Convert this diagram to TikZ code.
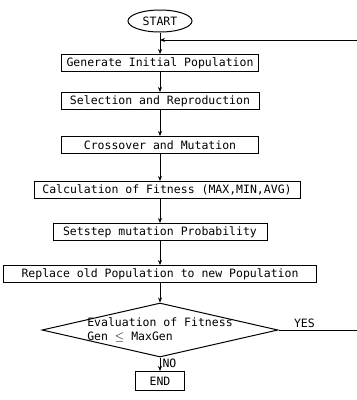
\documentclass[tikz,border=0pt]{standalone}
\usepackage{fontspec}
\setmainfont{DejaVu Sans Mono}
\usetikzlibrary{shapes.geometric,arrows.meta}
\tikzset{
  lbl/.style={font=\fontsize{11.5}{13.5}\selectfont},
  procbox/.style={lbl,draw,rectangle,minimum height=17pt,inner sep=0pt},
  flow/.style={-{Stealth[length=5pt,width=4pt]}},
}
\begin{document}
\begin{tikzpicture}[x=1pt,y=-1pt,line width=1pt]
		\clip (0,0) rectangle (357,400);
		\node[lbl,draw,ellipse,minimum width=64pt,minimum height=22pt,inner sep=0pt] (start) at (160,21) {START};
		\node[procbox,minimum width=197pt] (gen) at (160,63) {Generate Initial Population};
		\node[procbox,minimum width=198pt] (sel) at (160,101) {Selection and Reproduction};
		\node[procbox,minimum width=197pt] (cross) at (160,145) {Crossover and Mutation};
		\node[procbox,minimum width=266pt] (calc) at (167,190) {Calculation of Fitness (MAX,MIN,AVG)};
		\node[procbox,minimum width=214pt] (setstep) at (160,232) {Setstep mutation Probability};
		\node[procbox,minimum width=313pt] (repl) at (160,274) {Replace old Population to new Population};
		\node[draw,diamond,minimum width=236pt,minimum height=54pt,inner sep=0pt,
			label={[lbl,align=left]center:Evaluation of Fitness\\Gen $\leq$ MaxGen}] (eval) at (160,330) {};
		\node[procbox,minimum width=49pt,minimum height=19pt] (end) at (160,381) {END};
		\coordinate (loopin) at (160,40);
		\coordinate (far) at (365,40);
		% main flow
		\draw[flow] (start) -- (gen);
		\draw[flow] (gen) -- (sel);
		\draw[flow] (sel) -- (cross);
		\draw[flow] (cross) -- (cross |- calc.north);
		\draw[flow] (cross |- calc.south) -- (setstep);
		\draw[flow] (setstep) -- (repl);
		\draw[flow] (repl) -- (eval);
		\draw[flow] (eval) -- node[lbl,right,pos=0.45,inner sep=2pt] {NO} (end);
		% loop back
		\draw[flow] (eval.east) -- node[lbl,above,pos=0.3,inner sep=2pt] {YES} (eval.east -| far) -- (far) -- (loopin);
\end{tikzpicture}
\end{document}
